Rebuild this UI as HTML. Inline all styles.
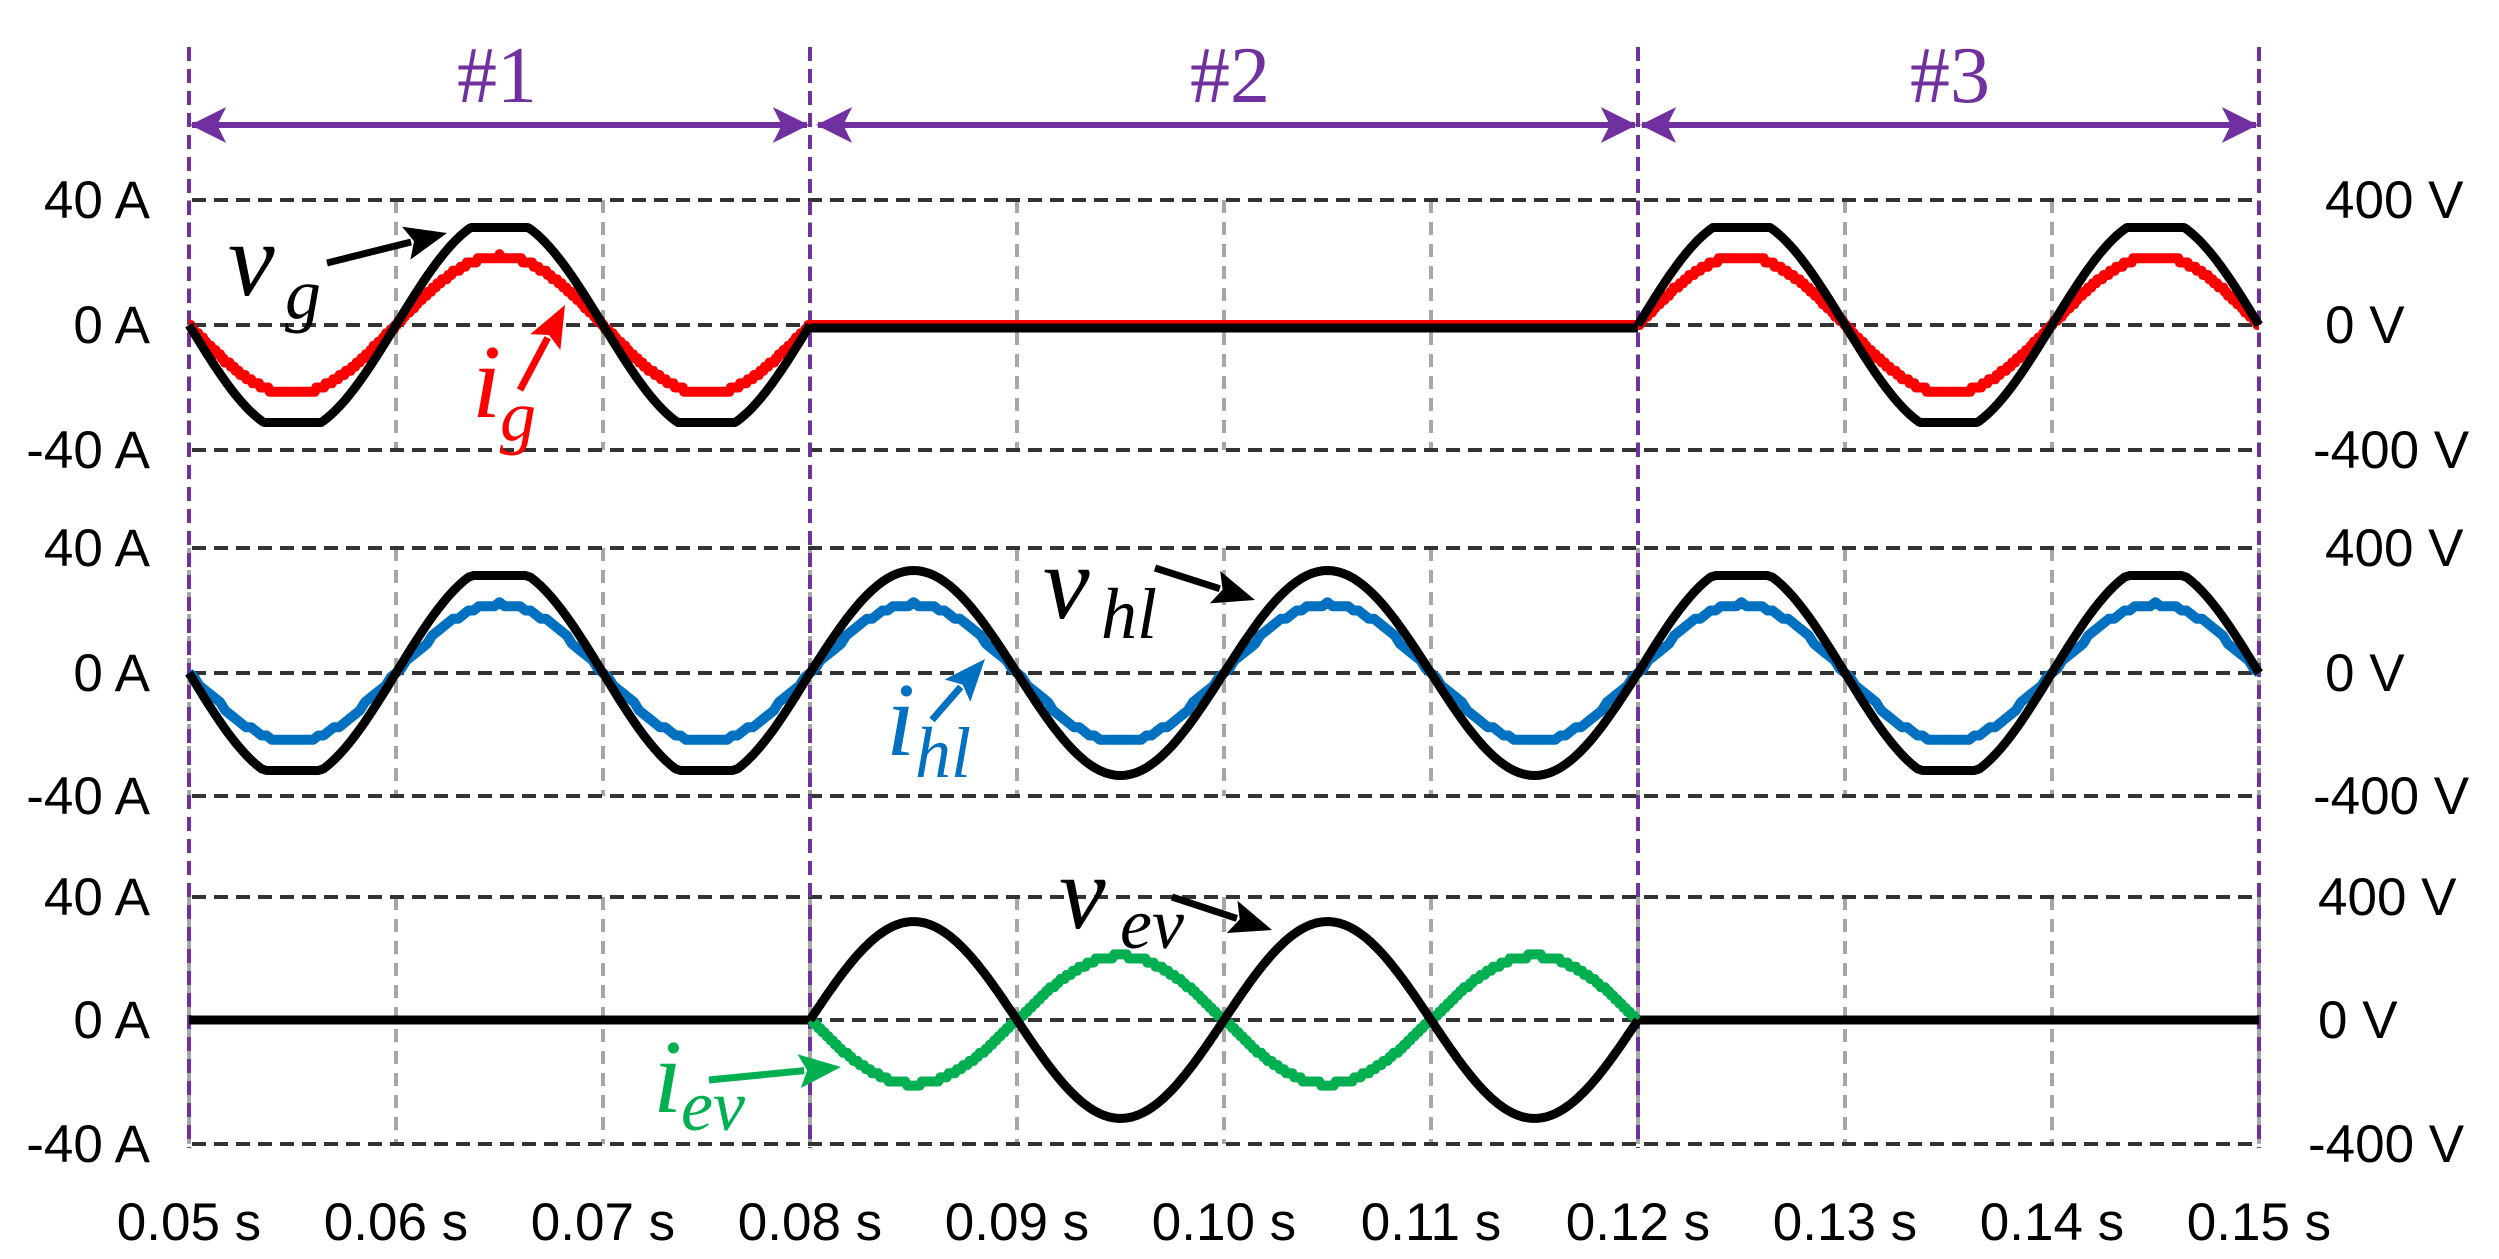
<!DOCTYPE html>
<html><head><meta charset="utf-8"><style>
html,body{margin:0;padding:0;background:#fff}
svg{display:block}
.tl{font-family:"Liberation Sans",sans-serif;font-size:53px;fill:#000}
.ann{font-family:"Liberation Serif",serif;font-style:italic}
</style></head><body>
<svg id="s" width="2499" height="1259" viewBox="0 0 2499 1259" xmlns="http://www.w3.org/2000/svg">
<defs>
<marker id="pa" viewBox="0 0 20 20" refX="19" refY="10" markerWidth="6" markerHeight="6" orient="auto-start-reverse" markerUnits="strokeWidth"><path d="M0,0 L20,10 L0,20 L5,10 z" fill="#7030A0"/></marker>
</defs>
<g id="grid"></g>
<g id="waves"></g>
<g id="labels">
<text class="tl" x="150" y="218" text-anchor="end">40 A</text>
<text class="tl" x="150" y="343" text-anchor="end">0 A</text>
<text class="tl" x="150" y="468" text-anchor="end">-40 A</text>
<text class="tl" x="150" y="566" text-anchor="end">40 A</text>
<text class="tl" x="150" y="691" text-anchor="end">0 A</text>
<text class="tl" x="150" y="814" text-anchor="end">-40 A</text>
<text class="tl" x="150" y="915" text-anchor="end">40 A</text>
<text class="tl" x="150" y="1038" text-anchor="end">0 A</text>
<text class="tl" x="150" y="1162" text-anchor="end">-40 A</text>
<text class="tl" x="2325" y="218">400 V</text>
<text class="tl" x="2325" y="343">0 V</text>
<text class="tl" x="2313" y="468">-400 V</text>
<text class="tl" x="2325" y="566">400 V</text>
<text class="tl" x="2325" y="691">0 V</text>
<text class="tl" x="2313" y="814">-400 V</text>
<text class="tl" x="2318" y="915">400 V</text>
<text class="tl" x="2318" y="1038">0 V</text>
<text class="tl" x="2308" y="1162">-400 V</text>
</g>
<g id="xl"></g>
<g font-family="Liberation Serif,serif" font-size="80" fill="#7030A0" text-anchor="middle">
<text x="497" y="102">#1</text><text x="1230" y="102">#2</text><text x="1950" y="102">#3</text>
</g>
<g stroke="#7030A0" stroke-width="6" fill="none">
<line x1="192" y1="125" x2="807" y2="125" marker-start="url(#pa)" marker-end="url(#pa)"/>
<line x1="818" y1="125" x2="1635" y2="125" marker-start="url(#pa)" marker-end="url(#pa)"/>
<line x1="1642" y1="125" x2="2256" y2="125" marker-start="url(#pa)" marker-end="url(#pa)"/>
</g>
<g class="ann">
<text x="228" y="295" font-size="105" fill="#000">v</text><text x="285" y="318" font-size="72" fill="#000">g</text>
<text x="472" y="417" font-size="105" fill="#f00">i</text><text x="500" y="440" font-size="72" fill="#f00">g</text>
<text x="1043" y="618" font-size="105" fill="#000">v</text><text x="1101" y="638" font-size="72" fill="#000">hl</text>
<text x="886" y="755" font-size="105" fill="#0070C0">i</text><text x="915" y="777" font-size="72" fill="#0070C0">hl</text>
<text x="1059" y="928" font-size="105" fill="#000">v</text><text x="1120" y="948" font-size="72" fill="#000">ev</text>
<text x="653" y="1112" font-size="105" fill="#00B050">i</text><text x="681" y="1130" font-size="72" fill="#00B050">ev</text>
</g>
<g id="arr"></g>
</svg>
<script>
const NS="http://www.w3.org/2000/svg";
function el(p,t,a){const e=document.createElementNS(NS,t);for(const k in a)e.setAttribute(k,a[k]);document.getElementById(p).appendChild(e);return e;}
const X=t=>189+(t-0.05)*20700;
const P=[[200,325,450],[548,673,796],[897,1020,1144]];
for(const [a,b,c] of P){
  for(let i=0;i<=10;i++){const x=X(0.05+i*0.01);el('grid','line',{x1:x,x2:x,y1:a,y2:c,stroke:'#a6a6a6','stroke-width':4,'stroke-dasharray':'13 9'});}
  for(const y of [a,b,c])el('grid','line',{x1:192,x2:2259,y1:y,y2:y,stroke:'#333','stroke-width':4,'stroke-dasharray':'14 8'});
}
for(const t of [0.05,0.08,0.12,0.15])el('grid','line',{x1:X(t),x2:X(t),y1:47,y2:1148,stroke:'#7030A0','stroke-width':4,'stroke-dasharray':'14 8'});
for(let i=0;i<=10;i++){const t=(0.05+i*0.01).toFixed(2);const e=el('xl','text',{x:X(0.05+i*0.01),y:1240,'text-anchor':'middle',class:'tl'});e.textContent=t+' s';}
function path(f,t0,t1,P3,col,w,step){
  const a=P3[0],b=P3[1];let d='';const n=400;
  for(let k=0;k<=n;k++){const t=t0+(t1-t0)*k/n;let v=f(t);if(step)v=Math.round(v*30)/30;const y=b-v*(b-a);d+=(k?'L':'M')+X(t).toFixed(1)+','+y.toFixed(1);}
  el('waves','path',{d:d,fill:'none',stroke:col,'stroke-width':w,'stroke-linejoin':'round'});
}
const S=t=>Math.sin(2*Math.PI*50*t);
const flat=t=>{let v=0.86*S(t);return Math.max(-0.78,Math.min(0.78,v))};
const zero=t=>0;
path(t=>0.55*S(t),0.05,0.08,P[0],'#f00',10,true);
path(t=>0.55*S(t),0.12,0.15,P[0],'#f00',10,true);
path(zero,0.08,0.12,P[0],'#f00',10);
path(flat,0.05,0.08,P[0],'#000',9);
path(flat,0.12,0.15,P[0],'#000',9);
path(zero,0.08,0.12,[P[0][0]+3,P[0][1]+3],'#000',9);
path(t=>0.55*S(t),0.05,0.15,P[1],'#0070C0',10,true);
path(t=>(t>0.08&&t<0.12)?0.82*S(t):flat(t),0.05,0.15,P[1],'#000',9);
path(zero,0.05,0.08,P[2],'#000',9);
path(zero,0.12,0.15,P[2],'#000',9);
path(t=>-0.52*S(t),0.08,0.12,P[2],'#00B050',10,true);
path(t=>0.8*S(t),0.08,0.12,P[2],'#000',9);
function arrow(x1,y1,x2,y2,col){
  const dx=x2-x1,dy=y2-y1,L=Math.hypot(dx,dy),ux=dx/L,uy=dy/L,h=42,w=17;
  const bx=x2-ux*h,by=y2-uy*h;
  el('arr','line',{x1:x1,y1:y1,x2:bx+ux*5,y2:by+uy*5,stroke:col,'stroke-width':7});
  el('arr','path',{d:`M${x2},${y2}L${bx-uy*w},${by+ux*w}L${bx+ux*8},${by+uy*8}L${bx+uy*w},${by-ux*w}Z`,fill:col});
}
arrow(327,263,447,233,'#000');
arrow(520,390,565,305,'#f00');
arrow(1155,568,1255,600,'#000');
arrow(932,720,985,659,'#0070C0');
arrow(1172,897,1272,930,'#000');
arrow(709,1080,841,1067,'#00B050');
</script>
</body></html>
